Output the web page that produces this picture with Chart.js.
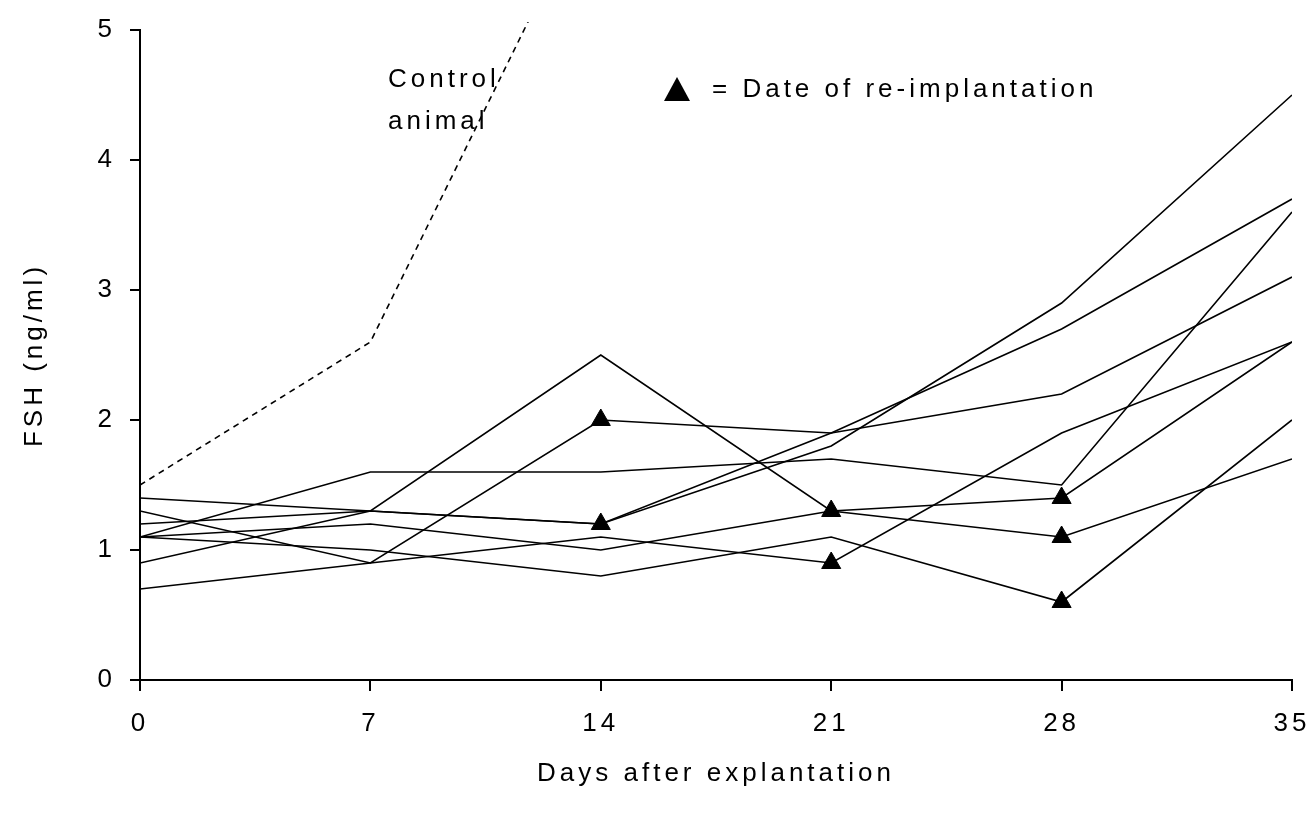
<!DOCTYPE html>
<html>
<head>
<meta charset="utf-8">
<script src="https://cdn.jsdelivr.net/npm/chart.js@4.4.1/dist/chart.umd.min.js"></script>
<style>
  html, body { margin: 0; padding: 0; background: #fff; }
  #wrap { width: 1311px; height: 814px; }
</style>
</head>
<body>
<div id="wrap"><canvas id="c" width="1311" height="814"></canvas></div>
<script>
// FSH after explantation — one line per animal, triangles mark re-implantation.
const DAYS = [0, 7, 14, 21, 28, 35];
const ANIMALS = [
  [1.3, 0.9, 2.0, 1.9, 2.2, 3.1],
  [1.4, 1.3, 2.5, 1.3, 1.1, 1.7],
  [1.2, 1.3, 1.2, 1.8, 2.9, 4.5],
  [0.9, 1.3, 1.2, 1.9, 2.7, 3.7],
  [1.1, 1.6, 1.6, 1.7, 1.5, 3.6],
  [1.1, 1.2, 1.0, 1.3, 1.4, 2.6],
  [1.1, 1.0, 0.8, 1.1, 0.6, 2.0],
  [0.7, 0.9, 1.1, 0.9, 1.9, 2.6],
];
const CONTROL_DAYS = [0, 7, 14];
const CONTROL = [1.5, 2.6, 6.2];
const REIMPLANT_DAYS = [14, 14, 21, 21, 28, 28, 28];
const REIMPLANT_FSH = [2.0, 1.2, 1.3, 0.9, 1.4, 1.1, 0.6];
const X_TICKS = [0, 7, 14, 21, 28, 35];
const Y_TICKS = [0, 1, 2, 3, 4, 5];

const FONT = { family: '"Liberation Sans", Arial, sans-serif', size: 26 };
const SPACING = '4px';
const pts = (xs, ys) => xs.map((x, i) => ({ x, y: ys[i] }));

const datasets = ANIMALS.map((a) => ({
  data: pts(DAYS, a), borderColor: '#000', borderWidth: 1.6, pointRadius: 0, tension: 0,
}));
datasets.push({
  data: pts(CONTROL_DAYS, CONTROL), borderColor: '#000', borderWidth: 1.6, borderDash: [6, 5],
  pointRadius: 0, clip: { left: 0, top: 8, right: 0, bottom: 0 },
});
datasets.push({
  type: 'scatter', data: pts(REIMPLANT_DAYS, REIMPLANT_FSH), pointStyle: 'triangle',
  pointRadius: 11, backgroundColor: '#000', borderColor: '#000', borderWidth: 1,
});

// letter-spaced text like the original figure
const spacing = { id: 'spacing', beforeDraw(chart) { chart.ctx.letterSpacing = SPACING; } };

// "Control animal" label and the triangle key
const notes = {
  id: 'notes',
  afterDraw(chart) {
    const { ctx } = chart;
    ctx.save();
    ctx.letterSpacing = SPACING;
    ctx.fillStyle = '#000';
    ctx.font = `${FONT.size}px ${FONT.family}`;
    ctx.textBaseline = 'alphabetic';
    ctx.fillText('Control', 388, 87);
    ctx.fillText('animal', 388, 129);
    ctx.beginPath();
    ctx.moveTo(677, 77); ctx.lineTo(690, 101); ctx.lineTo(664, 101); ctx.closePath();
    ctx.fill();
    ctx.fillText('= Date of re-implantation', 712, 97);
    ctx.restore();
  },
};

new Chart(document.getElementById('c'), {
  type: 'line',
  data: { datasets },
  plugins: [spacing, notes],
  options: {
    responsive: false,
    animation: false,
    layout: { padding: { left: 0, top: 30, right: 19, bottom: 0 } },
    plugins: { legend: { display: false }, tooltip: { enabled: false } },
    scales: {
      x: {
        type: 'linear', min: 0, max: 35,
        afterBuildTicks: (s) => { s.ticks = X_TICKS.map((v) => ({ value: v })); },
        afterFit: (s) => { s.height = 134; s.paddingLeft = 0; s.paddingRight = 0; },
        grid: { drawOnChartArea: false, color: '#000', tickColor: '#000', tickLength: 11, lineWidth: 2 },
        border: { color: '#000', width: 2 },
        ticks: { color: '#000', font: FONT, padding: 17, maxRotation: 0, autoSkip: false },
        title: { display: true, text: 'Days after explantation', color: '#000', font: FONT, padding: { bottom: 25 } },
      },
      y: {
        min: 0, max: 5,
        afterBuildTicks: (s) => { s.ticks = Y_TICKS.map((v) => ({ value: v })); },
        afterFit: (s) => { s.width = 140; s.paddingTop = 0; s.paddingBottom = 0; },
        grid: { drawOnChartArea: false, color: '#000', tickColor: '#000', tickLength: 10, lineWidth: 2 },
        border: { color: '#000', width: 2 },
        ticks: { color: '#000', font: FONT, padding: 14 },
        title: { display: true, text: 'FSH (ng/ml)', color: '#000', font: FONT, padding: { top: 19 } },
      },
    },
  },
});
</script>
</body>
</html>
